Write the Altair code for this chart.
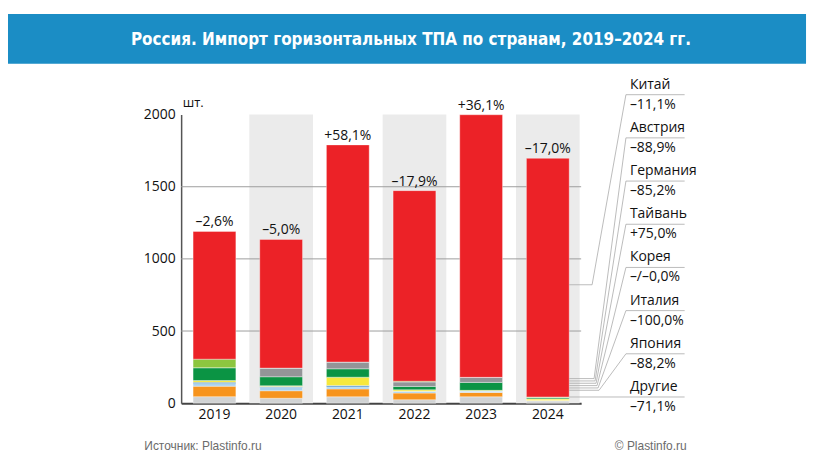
import altair as alt
import pandas as pd

# ---------------- data ----------------
YEARS = ["2019", "2020", "2021", "2022", "2023", "2024"]
CHANGE = ["–2,6%", "–5,0%", "+58,1%", "–17,9%", "+36,1%", "–17,0%"]

# stacked from bottom to top
SERIES = ["Другие", "Япония", "Италия", "Корея", "Тайвань", "Германия", "Австрия", "прочие", "Китай"]
DRUGIE = [45, 34, 44, 24, 44, 15]
YAPONIYA = [73, 52, 55, 46, 30, 4]
ITALIYA = [19, 25, 14, 13, 10, 0]
KOREYA = [8, 5, 9, 0, 0, 0]
TAYVAN = [12, 5, 58, 10, 5, 9]
GERMANIYA = [89, 62, 58, 23, 55, 8]
AVSTRIYA = [0, 60, 47, 31, 35, 4]
PROCHIE = [59, 0, 0, 5, 0, 3]
KITAY = [885, 892, 1505, 1321, 1820, 1654]
VALUES = [DRUGIE, YAPONIYA, ITALIYA, KOREYA, TAYVAN, GERMANIYA, AVSTRIYA, PROCHIE, KITAY]

LEGEND_NAMES = ["Китай", "Австрия", "Германия", "Тайвань", "Корея", "Италия", "Япония", "Другие"]
LEGEND_CHANGES = ["–11,1%", "–88,9%", "–85,2%", "+75,0%", "–/–0,0%", "–100,0%", "–88,2%", "–71,1%"]

Y_TICKS = [0, 500, 1000, 1500, 2000]
GRID_VALUES = [500, 1000, 1500]
BAND_YEARS = ["2020", "2022", "2024"]
BAND_TOP = 2000

TITLE = "Россия. Импорт горизонтальных ТПА по странам, 2019–2024 гг."
SOURCE = "Источник: Plastinfo.ru"
COPYRIGHT = "© Plastinfo.ru"

# ---------------- styles ----------------
COLORS = ["#d1d3d4", "#f7941d", "#a9d3ef", "#1f78c1", "#f7e83c", "#0b9444", "#939598", "#8dc63f", "#ec2227"]
FONT = "Open Sans"
BANNER = "#1b8dc5"
W, H = 402, 290

# ---------------- tables ----------------
rows = []
for si, (name, vals) in enumerate(zip(SERIES, VALUES)):
    for y, v in zip(YEARS, vals):
        rows.append({"year": y, "series": name, "value": v, "order": si})
df = pd.DataFrame(rows)
tot = df.groupby("year", as_index=False)["value"].sum().rename(columns={"value": "total"})
tot["change"] = CHANGE
band_df = pd.DataFrame({"year": BAND_YEARS, "top": [BAND_TOP] * len(BAND_YEARS), "base": [0] * len(BAND_YEARS)})
grid_df = pd.DataFrame({"v": GRID_VALUES})

xs = alt.Scale(domain=YEARS, paddingInner=0, paddingOuter=0)
ys = alt.Scale(domain=[0, 2000], nice=False)

bands = alt.Chart(band_df).mark_bar(size=64, color="#ebebeb").encode(
    x=alt.X("year:N", scale=xs, title=None,
            axis=alt.Axis(labelFontSize=14, labelColor="#111", labelFont=FONT, ticks=False,
                          domainColor="#444", domainWidth=2, labelPadding=4, labelAngle=0)),
    y=alt.Y("top:Q", scale=ys, title="шт.",
            axis=alt.Axis(values=Y_TICKS, format="d", labelFontSize=14, labelColor="#111", labelFont=FONT,
                          ticks=False, grid=False, domainColor="#555", domainWidth=1.5, labelPadding=6,
                          titleAngle=0, titleX=1, titleY=-8, titleAlign="left", titleBaseline="alphabetic",
                          titleFont=FONT, titleFontSize=13, titleFontWeight="normal", titleColor="#111")),
    y2="base:Q",
)

grid = alt.Chart(grid_df).mark_rule(color="#9d9d9d", strokeWidth=1).encode(
    y=alt.Y("v:Q", scale=ys, title="шт.")
)

bars = alt.Chart(df).mark_bar(size=43, stroke="white", strokeWidth=0.6, strokeOpacity=0.6).encode(
    x=alt.X("year:N", scale=xs, title=None),
    y=alt.Y("value:Q", stack="zero", scale=ys, title="шт."),
    color=alt.Color("series:N", scale=alt.Scale(domain=SERIES, range=COLORS), legend=None),
    order=alt.Order("order:Q", sort="ascending"),
)

pct = alt.Chart(tot).mark_text(dy=-5, baseline="alphabetic", fontSize=14, font=FONT, color="#111").encode(
    x=alt.X("year:N", scale=xs, title=None),
    y=alt.Y("total:Q", scale=ys, title="шт."),
    text="change:N",
)

main = alt.layer(bands, grid, bars, pct)

# ---------------- annotations (pixel layout) ----------------
one = pd.DataFrame({"a": [0]})
banner = alt.Chart(one).mark_rect(color=BANNER).encode(
    x=alt.value(-174), x2=alt.value(628), y=alt.value(-101), y2=alt.value(-51)
)
title = alt.Chart(one).mark_text(
    font="DejaVu Sans Condensed", fontSize=17, fontWeight="bold", color="white",
    align="center", baseline="middle"
).encode(x=alt.value(231), y=alt.value(-75), text=alt.value(TITLE))

src = alt.Chart(one).mark_text(font="Liberation Sans", fontSize=12, color="#6b6b6b", align="left",
                               baseline="middle").encode(x=alt.value(-37), y=alt.value(333), text=alt.value(SOURCE))
cpr = alt.Chart(one).mark_text(font="Liberation Sans", fontSize=12, color="#6b6b6b", align="right",
                               baseline="middle").encode(x=alt.value(508), y=alt.value(333), text=alt.value(COPYRIGHT))

STEP = 43.4
UL0 = -20
leg = pd.DataFrame({"name": LEGEND_NAMES, "chg": LEGEND_CHANGES})
leg["yu"] = [UL0 + STEP * i for i in range(len(LEGEND_NAMES))]
leg["yn"] = leg["yu"] - 6
leg["yv"] = leg["yu"] + 14

names = alt.Chart(leg).mark_text(font=FONT, fontSize=14, color="#111", align="left", baseline="alphabetic").encode(
    x=alt.value(451), y=alt.Y("yn:Q", scale=None, axis=None), text="name:N")
chgs = alt.Chart(leg).mark_text(font=FONT, fontSize=14, color="#111", align="left", baseline="alphabetic").encode(
    x=alt.value(451), y=alt.Y("yv:Q", scale=None, axis=None), text="chg:N")

pts = []
for i, nm in enumerate(LEGEND_NAMES):
    yu = UL0 + STEP * i
    if i == 0:
        yb, kx = 171, 413
        path = [(390, yb), (kx, yb), (447, yu), (506, yu)]
    elif i < len(LEGEND_NAMES) - 1:
        k = i - 1
        yb, kx = 265.3 + 2.35 * k, 415 + k
        path = [(390, yb), (kx, yb), (447, yu), (506, yu)]
    else:
        path = [(390, yu), (506, yu)]
    for j, (px, py) in enumerate(path):
        pts.append({"label": nm, "k": j, "px": px, "py": py})
lead_df = pd.DataFrame(pts)
leaders = alt.Chart(lead_df).mark_line(color="#ababab", strokeWidth=0.8).encode(
    x=alt.X("px:Q", scale=None, axis=None),
    y=alt.Y("py:Q", scale=None, axis=None),
    detail="label:N",
    order="k:Q",
)

annot = alt.layer(banner, title, src, cpr, leaders, names, chgs)

chart = alt.layer(main, annot).resolve_scale(x="independent", y="independent").properties(
    width=W, height=H,
    autosize=alt.AutoSizeParams(type="none"),
    padding={"left": 174, "top": 106, "right": 232, "bottom": 58},
).configure_view(strokeWidth=0)

chart.save("out.html", embed_options={"renderer": "svg", "actions": False})
